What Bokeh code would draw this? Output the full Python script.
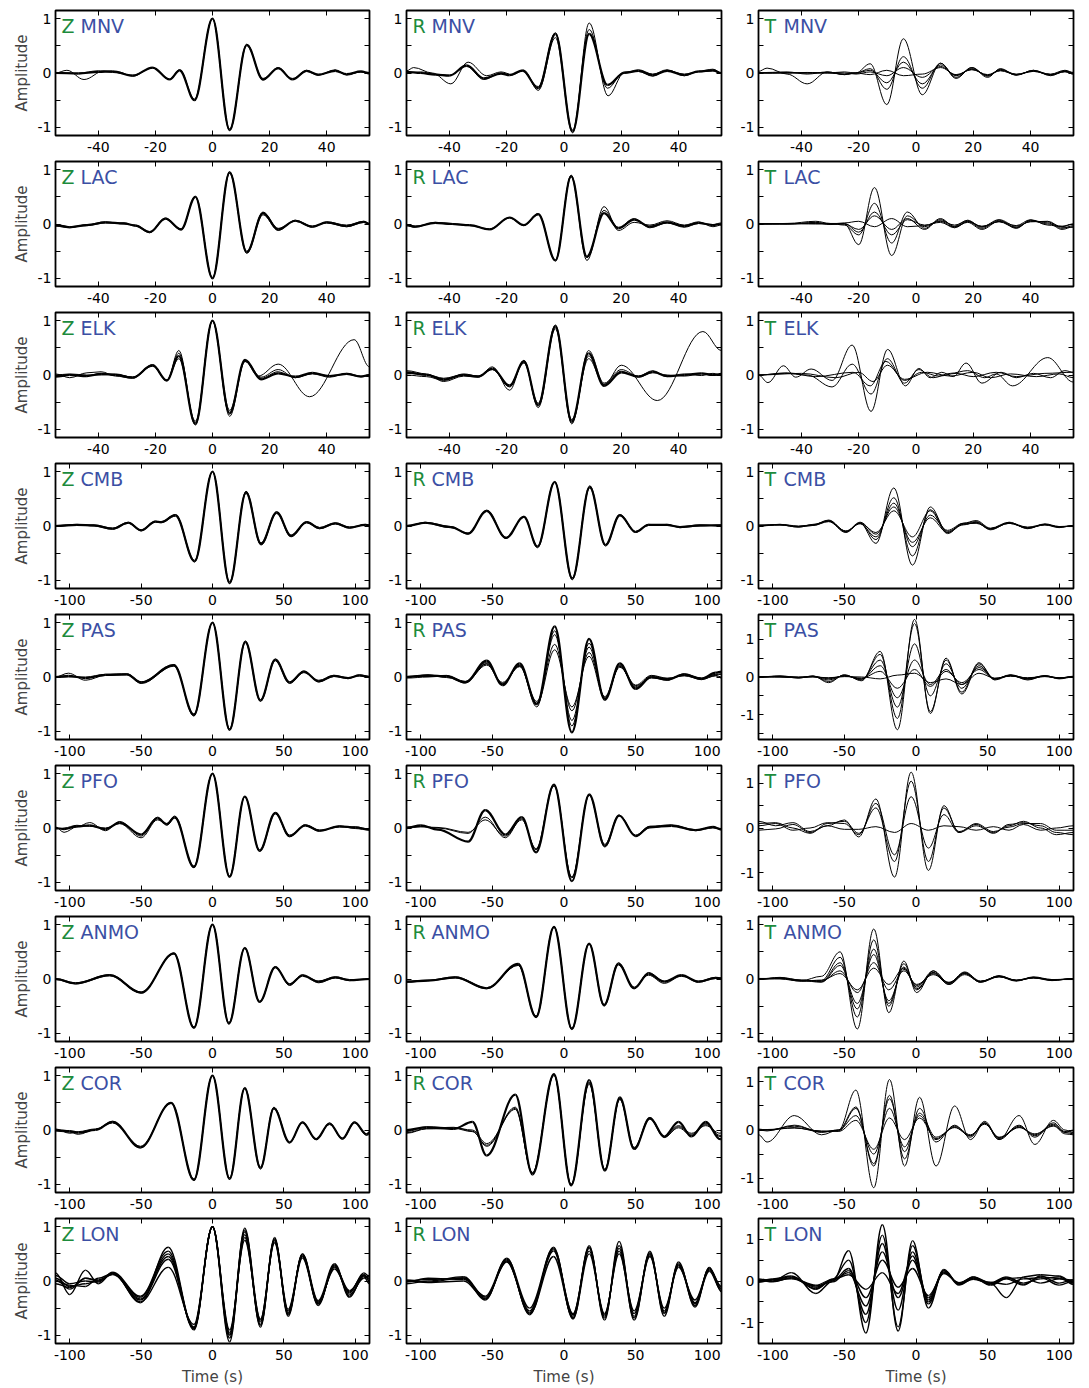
import numpy as np
from bokeh.plotting import figure
from bokeh.layouts import gridplot
from bokeh.models import Range1d, FixedTicker, LinearAxis, Label, ColumnDataSource
from bokeh.embed import file_html
from bokeh.resources import INLINE

# ---------------- data: extremum times (s) and amplitudes ----------------
COMPONENTS = ["Z", "R", "T"]
STATIONS = ["MNV", "LAC", "ELK", "CMB", "PAS", "PFO", "ANMO", "COR", "LON"]
SHORT_STATIONS = ["MNV", "LAC", "ELK"]
SHORT_TICKS = [-40, -20, 0, 20, 40]
LONG_TICKS = [-100, -50, 0, 50, 100]
X_LABEL = "Time (s)"
Y_LABEL = "Amplitude"

# MNV
Z_MNV_T = [-55, -47, -40, -35, -28, -21, -15, -11.5, -6.3, 0, 6, 12, 17.7, 23, 28, 33, 37, 43, 47, 52, 55]
Z_MNV_A = [0, -0.01, 0.02, 0.03, -0.05, 0.1, -0.12, 0.05, -0.5, 1.0, -1.05, 0.52, -0.12, 0.09, -0.12, 0.04, -0.03, 0.04, -0.02, 0.03, 0.0]
Z_MNV_C = [0.01, 0.0, 0.04, 0.01, -0.04, 0.09, -0.11, 0.06, -0.5, 1.0, -1.06, 0.53, -0.13, 0.1, -0.11, 0.03, -0.04, 0.05, -0.04, 0.02, -0.01]
Z_MNV_T2 = [-55, -51, -45, -38, -33, -28, -21, -15, -11.5, -6.3, 0, 6, 12, 17.7, 23, 28, 33, 37, 43, 47, 52, 55]
Z_MNV_B = [0, 0.05, -0.12, 0.04, 0.02, -0.06, 0.1, -0.12, 0.05, -0.48, 1.0, -1.03, 0.5, -0.1, 0.08, -0.1, 0.05, -0.04, 0.06, -0.03, 0.02, -0.02]

R_MNV_T = [-55, -50, -45, -40, -34, -28, -22, -19, -14.5, -9, -3, 3, 8.8, 15.2, 21, 26, 31, 36, 42, 47, 52, 55]
R_MNV_A = [0.02, 0.0, -0.03, -0.05, 0.14, -0.1, -0.01, -0.04, 0.05, -0.28, 0.72, -1.08, 0.72, -0.22, 0.0, 0.04, -0.04, 0.04, -0.04, 0.03, 0.05, 0.0]
R_MNV_C = [0.0, 0.02, -0.02, -0.04, 0.12, -0.12, 0.0, -0.03, 0.03, -0.25, 0.74, -1.05, 0.8, -0.28, 0.02, 0.03, -0.06, 0.05, -0.02, 0.02, 0.04, -0.01]
R_MNV_T2 = [-55, -52.5, -46, -39.5, -33.5, -27, -22, -18, -14, -9, -3, 3, 8.8, 15.4, 21, 26, 31, 36, 42, 47, 52, 55]
R_MNV_B = [0.04, 0.1, 0.0, -0.2, 0.2, -0.05, 0.02, -0.03, 0.05, -0.32, 0.65, -1.1, 0.92, -0.42, 0.0, 0.06, -0.02, 0.06, -0.05, 0.03, 0.07, 0.0]

T_MNV_T = [-55, -52, -45, -38, -31, -25, -21, -16, -10.2, -4.4, 2.2, 8.6, 14, 19.5, 25, 29.5, 35, 41, 47, 52, 55]
T_MNV_A = [0.03, 0.09, -0.02, -0.2, 0.02, -0.03, 0.0, 0.17, -0.58, 0.63, -0.4, 0.18, -0.1, 0.1, -0.08, 0.08, -0.04, 0.05, -0.03, 0.02, -0.02]
T_MNV_B = [0.0, 0.01, 0.02, -0.02, 0.02, -0.03, 0.0, 0.08, -0.3, 0.3, -0.28, 0.18, -0.08, 0.1, -0.06, 0.07, -0.04, 0.05, -0.05, 0.03, -0.02]
T_MNV_C = [0.0, 0.0, 0.0, 0.01, 0.0, -0.02, 0.0, 0.05, -0.18, 0.2, -0.2, 0.15, -0.05, 0.08, -0.05, 0.05, -0.03, 0.04, -0.04, 0.04, 0.0]
T_MNV_D = [0.01, 0.0, 0.0, 0.0, 0.01, 0.0, -0.02, 0.02, -0.05, 0.1, -0.08, 0.12, -0.04, 0.07, -0.04, 0.06, -0.02, 0.03, -0.02, 0.05, 0.01]
T_MNV_E = [0.0, 0.0, 0.01, 0.0, 0.0, 0.02, 0.0, -0.03, 0.05, -0.05, -0.02, 0.1, -0.03, 0.06, -0.03, 0.04, -0.03, 0.03, -0.03, 0.03, 0.0]

# LAC
Z_LAC_T = [-55, -50, -44, -37.5, -31, -27, -22, -16.5, -11, -6, 0, 6, 12, 17.7, 23, 29, 35, 40, 47, 53, 55]
Z_LAC_A = [-0.02, -0.06, -0.02, 0.03, 0.01, -0.03, -0.15, 0.1, -0.1, 0.5, -1.0, 0.95, -0.52, 0.2, -0.1, 0.06, -0.05, 0.03, -0.04, 0.04, 0.0]
Z_LAC_B = [-0.04, -0.07, -0.01, 0.04, 0.0, -0.02, -0.14, 0.11, -0.09, 0.49, -0.98, 0.93, -0.5, 0.22, -0.08, 0.05, -0.06, 0.04, -0.02, 0.05, 0.01]
Z_LAC_C = [-0.01, -0.05, -0.03, 0.02, 0.02, -0.04, -0.16, 0.09, -0.11, 0.51, -1.0, 0.96, -0.54, 0.17, -0.12, 0.07, -0.04, 0.02, -0.05, 0.03, -0.01]

R_LAC_T = [-55, -52, -45, -39, -33, -26, -19, -14, -9, -3, 2.5, 8, 14, 19, 24.5, 30, 36, 42, 47, 52, 55]
R_LAC_A = [-0.02, -0.05, 0.02, 0.0, -0.02, -0.1, 0.12, -0.02, 0.18, -0.67, 0.88, -0.6, 0.2, -0.08, 0.08, -0.05, 0.03, -0.04, 0.02, -0.02, 0.0]
R_LAC_B = [-0.03, -0.06, 0.03, 0.01, -0.03, -0.09, 0.11, -0.03, 0.17, -0.66, 0.87, -0.67, 0.32, -0.12, 0.03, -0.02, 0.06, -0.02, 0.04, -0.05, -0.02]
R_LAC_C = [-0.01, -0.04, 0.02, -0.01, -0.02, -0.1, 0.12, -0.02, 0.19, -0.68, 0.9, -0.62, 0.25, -0.06, 0.1, -0.07, 0.02, -0.06, 0.01, -0.01, 0.02]

T_LAC_T = [-55, -45, -35, -30, -25, -20, -14.5, -8.5, -3, 3, 8.5, 13.5, 18, 23, 29, 35, 40, 46, 51, 55]
T_LAC_A = [0.0, 0.0, 0.03, 0.0, 0.0, -0.38, 0.67, -0.58, 0.15, -0.05, 0.05, -0.06, 0.05, -0.08, 0.07, -0.08, 0.07, 0.02, -0.1, -0.05]
T_LAC_B = [0.0, 0.01, 0.05, 0.01, -0.02, -0.2, 0.38, -0.35, 0.22, -0.08, 0.08, -0.04, 0.07, -0.06, 0.05, -0.06, 0.05, 0.04, -0.08, -0.03]
T_LAC_C = [0.01, 0.0, 0.02, -0.01, 0.0, -0.1, 0.15, -0.1, 0.1, -0.1, 0.1, -0.05, 0.03, -0.1, 0.05, -0.03, 0.08, -0.02, -0.05, 0.0]
T_LAC_D = [0.0, 0.01, 0.0, 0.0, 0.02, 0.05, -0.05, 0.1, -0.05, -0.03, 0.06, -0.02, 0.06, -0.05, 0.08, -0.04, 0.04, 0.05, -0.06, -0.06]
T_LAC_E = [0.0, 0.0, 0.01, 0.01, 0.01, -0.15, 0.22, -0.2, 0.08, -0.02, 0.03, -0.07, 0.04, -0.04, 0.04, -0.07, 0.06, 0.0, -0.04, 0.0]

# ELK
Z_ELK_T = [-55, -50, -44, -39, -34, -28, -21, -16, -11.8, -6, 0, 6, 11.4, 17, 23, 29, 35, 41, 47, 52, 55]
Z_ELK_A = [-0.03, 0.0, -0.02, 0.02, 0.0, -0.05, 0.18, -0.1, 0.35, -0.9, 1.0, -0.7, 0.28, -0.08, 0.03, -0.03, 0.04, -0.02, 0.02, -0.03, 0.0]
Z_ELK_B = [0.02, -0.05, 0.04, 0.06, -0.02, -0.06, 0.17, -0.11, 0.45, -0.92, 1.0, -0.76, 0.25, -0.06, 0.06, -0.05, 0.02, -0.04, 0.03, -0.02, -0.03]
Z_ELK_D = [-0.01, 0.01, -0.01, 0.03, 0.01, -0.04, 0.19, -0.1, 0.4, -0.88, 0.99, -0.72, 0.27, -0.04, 0.1, -0.05, 0.03, -0.01, 0.01, -0.03, 0.01]
Z_ELK_T2 = [-55, -50, -44, -39, -34, -28, -21, -16, -11.8, -6, 0, 6, 11.4, 16, 23, 34, 49.6, 55]
Z_ELK_C = [0.0, 0.02, 0.0, 0.0, 0.02, -0.04, 0.16, -0.09, 0.3, -0.85, 1.0, -0.65, 0.25, -0.02, 0.2, -0.4, 0.65, 0.15]

R_ELK_T = [-55, -48, -42, -35, -30, -25, -19, -14, -9, -3, 2.7, 8.6, 14, 20, 26, 31, 36, 42, 48, 52, 55]
R_ELK_A = [0.05, 0.0, -0.08, 0.0, -0.03, 0.12, -0.2, 0.25, -0.55, 0.9, -0.85, 0.4, -0.2, 0.05, -0.03, 0.06, -0.02, 0.0, 0.03, 0.0, 0.02]
R_ELK_B = [0.08, 0.02, -0.12, -0.02, -0.04, 0.15, -0.28, 0.27, -0.6, 0.85, -0.9, 0.45, -0.15, 0.1, -0.02, 0.08, -0.03, 0.02, -0.01, 0.03, 0.0]
R_ELK_D = [0.03, 0.01, -0.06, 0.01, -0.02, 0.1, -0.18, 0.22, -0.52, 0.92, -0.88, 0.35, -0.17, 0.07, -0.04, 0.04, 0.0, -0.02, 0.02, -0.01, 0.01]
R_ELK_T2 = [-55, -48, -42, -35, -30, -25, -19, -14, -9, -3, 2.7, 8.6, 14, 20, 32.6, 48.5, 55]
R_ELK_C = [0.0, -0.03, -0.1, 0.02, -0.02, 0.1, -0.22, 0.24, -0.57, 0.88, -0.82, 0.3, -0.18, 0.18, -0.47, 0.8, 0.45]

T_ELK_TA = [-55, -51.7, -46.3, -42, -36.6, -29.3, -22.3, -15.7, -9.9, -3.7, 1, 5, 9, 13, 17.5, 23, 29.7, 35, 41, 47, 52, 55]
T_ELK_A = [0.0, -0.14, 0.17, -0.04, 0.11, -0.1, 0.55, -0.67, 0.47, -0.2, 0.12, -0.05, 0.05, -0.03, 0.22, -0.15, 0.05, -0.05, 0.03, -0.05, 0.08, 0.05]
T_ELK_TB = [-55, -46, -38, -29.3, -22.3, -15.7, -10, -4, 1, 6, 12, 18, 24, 28, 33.7, 46, 55]
T_ELK_B = [0.0, 0.03, 0.0, -0.22, 0.2, -0.35, 0.3, -0.15, 0.1, -0.05, 0.03, 0.08, -0.05, 0.02, -0.2, 0.32, -0.13]
T_ELK_TC = [-55, -45, -35, -22, -16, -10.5, -4, 2, 8, 14, 20, 28, 35, 45, 55]
T_ELK_C = [0.0, 0.04, -0.03, 0.05, -0.2, 0.25, -0.1, 0.05, -0.02, 0.03, -0.03, 0.05, -0.03, 0.03, 0.05]
T_ELK_TD = [-55, -40, -28, -20, -15, -10, -4, 4, 12, 20, 26, 33, 42, 50, 55]
T_ELK_D = [0.0, 0.03, -0.05, 0.05, -0.12, 0.18, -0.08, 0.05, -0.02, 0.05, -0.05, 0.02, -0.03, 0.02, -0.05]

# CMB
Z_CMB_T = [-110, -95, -83, -70, -59, -50, -40, -36, -26, -12.5, 0, 12, 23.5, 34, 45, 55, 66, 75, 86, 96, 107, 110]
Z_CMB_A = [0.0, 0.02, 0.01, -0.05, 0.06, -0.08, 0.08, 0.07, 0.2, -0.65, 1.0, -1.05, 0.62, -0.33, 0.25, -0.18, 0.07, -0.04, 0.05, -0.03, 0.02, 0.01]
Z_CMB_B = [0.01, 0.03, 0.0, -0.06, 0.05, -0.09, 0.07, 0.08, 0.21, -0.63, 1.0, -1.02, 0.6, -0.35, 0.23, -0.2, 0.06, -0.05, 0.04, -0.04, 0.03, 0.0]
Z_CMB_C = [-0.01, 0.02, 0.02, -0.04, 0.07, -0.07, 0.09, 0.06, 0.18, -0.66, 1.0, -1.06, 0.64, -0.31, 0.26, -0.17, 0.08, -0.03, 0.06, -0.02, 0.02, 0.02]

R_CMB_T = [-110, -97, -79, -67, -54, -40.5, -28, -18.5, -6.5, 5.8, 18, 29, 39, 50, 59, 72, 81, 95, 110]
R_CMB_A = [0.0, 0.06, -0.02, -0.14, 0.28, -0.22, 0.17, -0.38, 0.81, -0.97, 0.72, -0.35, 0.2, -0.11, 0.02, 0.02, -0.02, 0.01, 0.01]
R_CMB_B = [0.01, 0.05, -0.03, -0.13, 0.27, -0.23, 0.18, -0.4, 0.8, -0.99, 0.74, -0.37, 0.19, -0.12, 0.03, 0.01, -0.01, 0.02, 0.0]
R_CMB_C = [-0.01, 0.07, -0.01, -0.15, 0.29, -0.21, 0.16, -0.37, 0.82, -0.95, 0.7, -0.34, 0.21, -0.1, 0.01, 0.03, -0.03, 0.0, 0.02]

T_CMB_T = [-110, -95, -82, -72, -61, -49, -39, -28, -15.5, -2.5, 10, 22, 33, 42, 52, 65, 78, 90, 100, 110]
T_CMB_A = [0.0, 0.02, -0.02, 0.02, 0.1, -0.1, 0.05, -0.32, 0.7, -0.72, 0.35, -0.12, 0.05, 0.08, -0.05, 0.06, -0.04, 0.03, -0.02, 0.0]
T_CMB_B = [0.01, 0.03, -0.01, 0.01, 0.08, -0.12, 0.06, -0.25, 0.52, -0.55, 0.3, -0.1, 0.03, 0.06, -0.06, 0.05, -0.03, 0.02, -0.03, 0.01]
T_CMB_C = [0.02, 0.02, -0.02, 0.03, 0.09, -0.09, 0.04, -0.2, 0.42, -0.38, 0.2, -0.08, 0.05, 0.1, -0.04, 0.07, -0.05, 0.04, -0.01, -0.01]
T_CMB_D = [0.0, 0.03, 0.0, 0.02, 0.11, -0.1, 0.07, -0.15, 0.35, -0.3, 0.15, -0.12, 0.02, 0.07, -0.07, 0.06, -0.02, 0.03, -0.02, 0.01]
T_CMB_E = [0.01, 0.02, -0.01, 0.01, 0.09, -0.11, 0.05, -0.12, 0.28, -0.2, 0.28, -0.14, 0.04, 0.05, -0.05, 0.05, -0.04, 0.02, -0.01, 0.0]

# PAS
Z_PAS_T = [-110, -101, -89, -75, -60, -50, -27, -13, 0, 12, 23, 33.6, 44, 54, 64, 74.5, 85, 95, 103, 110]
Z_PAS_A = [0.0, 0.02, -0.02, 0.04, 0.05, -0.1, 0.22, -0.7, 1.0, -0.97, 0.65, -0.43, 0.32, -0.1, 0.1, -0.08, 0.02, -0.02, 0.03, 0.0]
Z_PAS_B = [0.0, 0.07, -0.06, 0.03, 0.04, -0.12, 0.2, -0.68, 1.0, -0.95, 0.63, -0.45, 0.3, -0.12, 0.08, -0.06, 0.03, -0.01, 0.02, -0.01]
Z_PAS_C = [-0.01, 0.0, 0.0, 0.05, 0.06, -0.09, 0.23, -0.72, 1.0, -0.98, 0.66, -0.42, 0.33, -0.09, 0.11, -0.09, 0.01, -0.03, 0.04, 0.01]

R_PAS_T = [-110, -95, -82, -69, -54, -43, -31, -19, -6.5, 5.5, 17.5, 28.5, 39, 50, 61, 72, 84, 96, 106, 110]
R_PAS_A = [0.0, 0.03, 0.01, -0.1, 0.3, -0.15, 0.25, -0.5, 0.93, -1.02, 0.7, -0.42, 0.25, -0.22, 0.0, -0.05, 0.05, -0.03, 0.08, 0.1]
R_PAS_B = [0.01, 0.02, 0.03, -0.08, 0.27, -0.13, 0.22, -0.55, 0.85, -0.9, 0.62, -0.4, 0.2, -0.2, 0.02, -0.03, 0.03, -0.05, 0.03, 0.0]
R_PAS_C = [-0.02, 0.0, 0.02, -0.11, 0.25, -0.12, 0.2, -0.48, 0.78, -0.8, 0.55, -0.38, 0.18, -0.16, -0.02, -0.04, 0.04, -0.02, 0.05, 0.06]
R_PAS_D = [0.0, 0.04, -0.01, -0.09, 0.24, -0.14, 0.21, -0.45, 0.6, -0.62, 0.45, -0.36, 0.22, -0.15, 0.03, -0.02, 0.02, -0.04, 0.02, -0.02]
R_PAS_E = [0.01, 0.01, 0.02, -0.1, 0.22, -0.1, 0.19, -0.5, 0.5, -0.55, 0.38, -0.4, 0.2, -0.18, 0.0, -0.06, 0.06, -0.03, 0.04, 0.05]

T_PAS_T = [-110, -95, -82, -72, -61, -50, -38, -25, -13, -1, 10, 21, 32, 44, 55, 66, 78, 90, 100, 110]
T_PAS_A = [0.0, 0.02, -0.03, 0.03, -0.15, 0.06, -0.1, 0.68, -1.4, 1.53, -0.97, 0.5, -0.45, 0.35, -0.05, 0.05, -0.08, 0.03, -0.05, 0.0]
T_PAS_B = [0.01, 0.0, -0.02, 0.02, -0.12, 0.05, -0.08, 0.6, -1.1, 1.42, -0.92, 0.45, -0.4, 0.38, -0.08, 0.04, -0.06, 0.02, -0.03, 0.02]
T_PAS_C = [0.0, 0.03, -0.01, 0.01, -0.08, 0.04, -0.06, 0.45, -0.8, 0.88, -0.5, 0.35, -0.3, 0.3, -0.06, 0.06, -0.05, 0.04, -0.04, 0.01]
T_PAS_D = [-0.01, 0.01, -0.02, 0.02, -0.05, 0.03, -0.05, 0.3, -0.55, 0.45, -0.2, 0.2, -0.2, 0.25, -0.04, 0.03, -0.04, 0.03, -0.02, 0.0]
T_PAS_E = [0.0, 0.02, 0.0, 0.01, -0.03, 0.02, -0.03, 0.15, -0.3, 0.2, -0.25, 0.15, -0.15, 0.2, -0.05, 0.05, -0.03, 0.02, -0.03, 0.01]
T_PAS_F = [0.01, 0.0, -0.01, 0.0, -0.02, 0.01, 0.0, -0.05, 0.05, 0.1, -0.15, -0.05, -0.2, 0.1, -0.03, 0.02, -0.02, 0.01, -0.02, 0.0]

# PFO
Z_PFO_T = [-110, -104, -95, -86, -75, -65, -50, -38.5, -32, -26.5, -13, 0, 12, 22.6, 33, 44, 54, 65, 75, 89, 100, 110]
Z_PFO_A = [0.0, -0.02, 0.03, 0.05, -0.02, 0.1, -0.12, 0.18, 0.07, 0.2, -0.72, 1.0, -0.9, 0.58, -0.42, 0.28, -0.15, 0.05, -0.05, 0.03, 0.01, -0.03]
Z_PFO_B = [0.02, -0.08, 0.02, 0.1, -0.05, 0.12, -0.15, 0.2, 0.05, 0.18, -0.7, 1.0, -0.9, 0.57, -0.4, 0.28, -0.13, 0.04, -0.06, 0.04, -0.01, -0.04]
Z_PFO_C = [-0.02, 0.0, 0.05, 0.03, 0.0, 0.08, -0.18, 0.15, 0.08, 0.22, -0.73, 1.0, -0.88, 0.58, -0.43, 0.26, -0.16, 0.06, -0.04, 0.02, 0.02, -0.02]

R_PFO_T = [-110, -100, -88, -67, -55, -41, -29.5, -19.5, -7, 5.5, 17.6, 28.5, 38.5, 50, 60, 75, 92, 104, 110]
R_PFO_A = [0.0, 0.05, -0.03, -0.25, 0.33, -0.12, 0.2, -0.45, 0.8, -0.98, 0.62, -0.33, 0.23, -0.15, 0.02, 0.04, -0.04, 0.02, -0.03]
R_PFO_B = [0.02, 0.03, 0.0, -0.1, 0.2, -0.18, 0.17, -0.4, 0.77, -0.9, 0.6, -0.3, 0.24, -0.15, 0.0, 0.05, -0.05, 0.0, -0.02]
R_PFO_C = [0.0, 0.02, 0.01, -0.08, 0.15, -0.15, 0.15, -0.38, 0.8, -0.92, 0.61, -0.35, 0.22, -0.13, 0.03, 0.06, -0.03, 0.01, -0.01]

T_PFO_T = [-110, -98, -86, -74, -62, -50, -40, -28, -15, -3.4, 8.7, 19.5, 30, 42, 54, 65, 75, 87, 98, 110]
T_PFO_A = [0.15, 0.05, 0.12, -0.08, 0.05, 0.18, -0.2, 0.65, -1.1, 1.25, -0.95, 0.5, -0.1, 0.05, -0.1, 0.05, 0.15, 0.0, -0.15, -0.1]
T_PFO_B = [0.1, 0.12, 0.0, -0.12, 0.1, 0.15, -0.12, 0.45, -0.75, 1.05, -0.75, 0.45, -0.08, 0.08, -0.12, 0.08, 0.12, 0.05, -0.1, -0.15]
T_PFO_C = [0.05, 0.1, -0.05, 0.0, 0.12, 0.1, -0.15, 0.55, -0.6, 0.7, -0.45, 0.3, -0.1, 0.1, -0.08, 0.02, 0.1, 0.1, -0.05, -0.05]
T_PFO_D = [-0.05, -0.02, 0.08, -0.1, 0.05, -0.03, -0.03, 0.03, -0.1, 0.1, -0.05, 0.05, 0.03, -0.05, 0.03, -0.05, 0.08, -0.05, 0.0, 0.05]

# ANMO
Z_ANMO_T = [-110, -96, -72, -50, -27, -13, 0, 11.5, 22.6, 33, 44, 54, 63, 74.5, 86, 96, 110]
Z_ANMO_A = [0.0, -0.08, 0.07, -0.25, 0.47, -0.9, 1.0, -0.82, 0.57, -0.42, 0.22, -0.1, 0.06, -0.05, 0.03, -0.02, 0.0]
Z_ANMO_B = [0.01, -0.07, 0.08, -0.24, 0.46, -0.88, 1.0, -0.8, 0.56, -0.43, 0.23, -0.12, 0.07, -0.07, 0.02, -0.03, 0.01]
Z_ANMO_C = [-0.01, -0.09, 0.06, -0.26, 0.48, -0.9, 1.0, -0.83, 0.58, -0.41, 0.21, -0.09, 0.08, -0.04, 0.04, -0.01, -0.01]

R_ANMO_T = [-110, -95, -76, -54, -32, -19.5, -7, 5.5, 17.5, 28, 38, 49, 59, 70, 82, 94, 106, 110]
R_ANMO_A = [-0.05, -0.03, 0.03, -0.17, 0.28, -0.7, 0.96, -0.92, 0.65, -0.48, 0.28, -0.17, 0.1, -0.05, 0.07, -0.05, 0.02, 0.01]
R_ANMO_B = [-0.04, -0.02, 0.04, -0.16, 0.25, -0.68, 0.95, -0.9, 0.64, -0.5, 0.26, -0.15, 0.07, -0.08, 0.05, -0.04, 0.03, 0.0]
R_ANMO_C = [-0.06, -0.03, 0.02, -0.18, 0.26, -0.71, 0.97, -0.93, 0.66, -0.47, 0.3, -0.18, 0.12, -0.04, 0.06, -0.06, 0.01, 0.02]

T_ANMO_T = [-110, -95, -80, -66, -53, -41, -29.5, -19, -8.5, 0.5, 12, 23, 34, 45, 58, 70, 82, 95, 110]
T_ANMO_A = [0.0, 0.02, -0.03, 0.05, 0.5, -0.92, 0.92, -0.62, 0.33, -0.25, 0.15, -0.08, 0.12, -0.05, 0.05, -0.03, 0.03, -0.02, 0.0]
T_ANMO_B = [0.01, 0.0, -0.04, -0.03, 0.4, -0.7, 0.72, -0.5, 0.28, -0.2, 0.12, -0.1, 0.1, -0.06, 0.06, -0.02, 0.02, -0.03, 0.01]
T_ANMO_C = [0.0, 0.03, -0.02, -0.05, 0.3, -0.55, 0.55, -0.45, 0.22, -0.15, 0.15, -0.07, 0.13, -0.04, 0.04, -0.04, 0.04, -0.01, 0.0]
T_ANMO_D = [-0.01, 0.01, -0.03, -0.06, 0.25, -0.45, 0.45, -0.4, 0.18, -0.12, 0.1, -0.1, 0.08, -0.05, 0.06, -0.03, 0.02, -0.02, 0.01]
T_ANMO_E = [0.0, 0.02, -0.02, -0.04, 0.15, -0.25, 0.3, -0.2, 0.15, -0.1, 0.08, -0.06, 0.1, -0.06, 0.04, -0.02, 0.03, -0.02, 0.0]
T_ANMO_F = [0.01, 0.01, -0.04, -0.02, 0.1, -0.2, 0.2, -0.1, 0.2, -0.18, 0.12, -0.08, 0.11, -0.04, 0.05, -0.03, 0.02, -0.01, -0.01]

# COR
Z_COR_T = [-110, -100, -94, -82, -70, -50.5, -29, -13, 0, 12, 22.6, 33.6, 43, 54, 63, 72.6, 82, 91, 99.5, 108, 110]
Z_COR_A = [0.0, -0.02, -0.05, 0.0, 0.15, -0.32, 0.5, -0.92, 1.0, -0.9, 0.77, -0.7, 0.4, -0.23, 0.14, -0.17, 0.12, -0.16, 0.14, -0.08, -0.05]
Z_COR_B = [0.02, -0.06, -0.03, 0.02, 0.13, -0.3, 0.49, -0.9, 1.0, -0.88, 0.76, -0.72, 0.42, -0.22, 0.13, -0.16, 0.1, -0.15, 0.15, -0.1, -0.08]
Z_COR_C = [-0.02, -0.04, -0.08, 0.01, 0.16, -0.33, 0.51, -0.93, 1.0, -0.91, 0.78, -0.68, 0.39, -0.24, 0.15, -0.18, 0.13, -0.17, 0.13, -0.07, -0.03]

R_COR_T = [-110, -96, -77, -64, -54, -34, -22, -7, 5, 17.6, 28.5, 39, 49, 60, 70, 80, 89, 99, 109, 110]
R_COR_A = [0.0, 0.05, 0.02, 0.15, -0.47, 0.65, -0.82, 1.03, -1.02, 0.92, -0.75, 0.6, -0.35, 0.22, -0.12, 0.15, -0.12, 0.15, -0.17, -0.16]
R_COR_B = [-0.05, 0.03, 0.05, -0.02, -0.3, 0.4, -0.8, 1.02, -1.0, 0.88, -0.72, 0.57, -0.33, 0.2, -0.14, 0.06, -0.08, 0.12, -0.1, -0.1]
R_COR_C = [-0.03, 0.06, 0.04, 0.0, -0.25, 0.38, -0.78, 1.0, -1.0, 0.86, -0.74, 0.58, -0.32, 0.23, -0.13, 0.04, -0.1, 0.1, -0.12, -0.12]
R_COR_D = [-0.06, 0.02, 0.03, -0.03, -0.28, 0.42, -0.79, 1.02, -1.02, 0.84, -0.73, 0.56, -0.34, 0.22, -0.12, 0.08, -0.06, 0.08, -0.06, -0.05]

T_COR_T = [-110, -104, -85, -66, -54, -42, -29.5, -18.5, -8, 2.5, 14, 27, 38, 48, 58, 72, 83, 96, 104, 110]
T_COR_A = [-0.1, -0.25, 0.3, -0.1, 0.0, 0.83, -1.2, 1.05, -0.75, 0.68, -0.75, 0.5, -0.2, 0.15, -0.2, 0.3, -0.3, 0.2, 0.0, -0.05]
T_COR_B = [0.0, -0.02, 0.1, -0.05, 0.0, 0.48, -0.75, 0.72, -0.6, 0.45, -0.25, 0.1, -0.15, 0.18, -0.18, 0.1, -0.15, 0.15, -0.05, 0.0]
T_COR_C = [0.0, 0.0, 0.08, -0.03, -0.02, 0.45, -0.7, 0.65, -0.45, 0.35, -0.15, 0.05, -0.12, 0.15, -0.2, 0.08, -0.12, 0.1, -0.08, -0.1]
T_COR_D = [0.02, 0.0, 0.05, -0.04, 0.0, 0.3, -0.5, 0.45, -0.35, 0.3, -0.2, 0.08, -0.1, 0.12, -0.15, 0.06, -0.1, 0.12, -0.03, -0.05]
T_COR_E = [0.0, 0.01, 0.04, -0.02, -0.03, 0.2, -0.4, 0.25, -0.2, 0.25, -0.18, 0.06, -0.12, 0.14, -0.16, 0.05, -0.08, 0.08, -0.05, -0.08]

# LON
Z_LON_T = [-110, -100, -89, -80, -70, -50.5, -31, -13, 0, 12, 22.6, 33.6, 43.5, 53, 63, 74, 85.5, 96, 106, 110]
Z_LON_A = [0.05, -0.1, -0.05, 0.0, 0.15, -0.4, 0.62, -0.88, 1.0, -1.12, 0.97, -0.85, 0.8, -0.65, 0.5, -0.45, 0.3, -0.3, 0.1, 0.05]
Z_LON_B = [0.15, -0.25, 0.2, -0.05, 0.15, -0.3, 0.5, -0.85, 1.0, -1.0, 0.9, -0.8, 0.75, -0.6, 0.48, -0.4, 0.25, -0.25, 0.05, 0.1]
Z_LON_C = [-0.05, -0.12, 0.05, 0.02, 0.12, -0.35, 0.4, -0.85, 1.0, -0.95, 0.8, -0.75, 0.72, -0.55, 0.45, -0.38, 0.22, -0.2, 0.12, 0.0]
Z_LON_D = [0.0, -0.08, -0.1, 0.05, 0.14, -0.38, 0.25, -0.8, 1.0, -0.9, 0.75, -0.7, 0.7, -0.58, 0.42, -0.42, 0.28, -0.22, 0.15, 0.08]
Z_LON_E = [0.1, -0.05, 0.0, -0.02, 0.16, -0.28, 0.55, -0.9, 1.0, -1.05, 0.85, -0.82, 0.78, -0.62, 0.5, -0.36, 0.32, -0.28, 0.08, -0.05]
Z_LON_F = [0.02, -0.15, 0.05, 0.0, 0.13, -0.33, 0.45, -0.87, 1.0, -0.98, 0.93, -0.72, 0.76, -0.52, 0.46, -0.42, 0.26, -0.18, 0.1, 0.03]

R_LON_T = [-110, -95, -70, -55, -40, -24, -7.3, 6.3, 17.6, 28.3, 38.5, 49, 60, 70, 80, 91.5, 101.5, 110]
R_LON_A = [0.0, 0.03, 0.05, -0.35, 0.42, -0.62, 0.62, -0.7, 0.65, -0.72, 0.73, -0.72, 0.55, -0.65, 0.35, -0.48, 0.25, -0.2]
R_LON_B = [-0.05, 0.0, 0.08, -0.3, 0.35, -0.55, 0.55, -0.6, 0.55, -0.6, 0.5, -0.55, 0.45, -0.5, 0.25, -0.35, 0.2, -0.15]
R_LON_C = [0.02, -0.03, 0.0, -0.32, 0.38, -0.6, 0.45, -0.65, 0.6, -0.65, 0.6, -0.6, 0.5, -0.55, 0.3, -0.4, 0.22, -0.1]
R_LON_D = [-0.02, 0.05, 0.03, -0.28, 0.4, -0.5, 0.6, -0.62, 0.62, -0.68, 0.65, -0.65, 0.52, -0.58, 0.32, -0.42, 0.18, -0.18]
R_LON_E = [0.0, -0.02, 0.06, -0.33, 0.36, -0.58, 0.58, -0.68, 0.5, -0.62, 0.55, -0.68, 0.48, -0.6, 0.28, -0.45, 0.24, -0.12]

T_LON_T = [-110, -100, -87, -70, -58, -47, -35, -23.5, -12.5, -2.4, 8.7, 19.4, 30, 40, 52, 63, 75, 87, 100, 110]
T_LON_A = [0.05, 0.0, 0.2, -0.3, 0.0, 0.73, -1.25, 1.35, -1.2, 0.97, -0.65, 0.28, -0.08, 0.1, -0.05, -0.4, 0.1, 0.15, 0.12, -0.05]
T_LON_B = [0.0, 0.05, 0.12, -0.2, 0.05, 0.5, -1.0, 1.1, -1.1, 0.85, -0.5, 0.2, -0.05, 0.08, -0.1, 0.05, -0.1, 0.12, -0.05, 0.03]
T_LON_C = [-0.03, 0.03, 0.1, -0.15, 0.02, 0.3, -0.8, 0.9, -0.7, 0.7, -0.45, 0.25, -0.1, 0.05, -0.05, 0.1, -0.05, 0.05, 0.1, -0.08]
T_LON_D = [0.02, -0.02, 0.08, -0.18, 0.03, 0.2, -0.6, 0.7, -0.4, 0.5, -0.4, 0.22, -0.06, 0.1, -0.08, 0.06, 0.08, -0.05, 0.05, 0.02]
T_LON_E = [0.0, 0.04, 0.05, -0.12, -0.02, 0.25, -0.4, 0.5, -0.15, 0.3, -0.35, 0.18, -0.04, 0.06, -0.03, -0.08, 0.05, 0.08, -0.1, 0.0]
T_LON_F = [0.03, -0.01, 0.07, -0.1, 0.04, 0.15, -0.2, 0.2, -0.3, 0.6, -0.55, 0.25, -0.07, 0.04, -0.06, 0.08, -0.08, 0.1, 0.06, -0.04]

PANELS = {
    ("Z", "MNV"): [(Z_MNV_T, Z_MNV_A), (Z_MNV_T2, Z_MNV_B), (Z_MNV_T, Z_MNV_C)],
    ("R", "MNV"): [(R_MNV_T, R_MNV_A), (R_MNV_T2, R_MNV_B), (R_MNV_T, R_MNV_C)],
    ("T", "MNV"): [(T_MNV_T, T_MNV_A), (T_MNV_T, T_MNV_B), (T_MNV_T, T_MNV_C), (T_MNV_T, T_MNV_D), (T_MNV_T, T_MNV_E)],
    ("Z", "LAC"): [(Z_LAC_T, Z_LAC_A), (Z_LAC_T, Z_LAC_B), (Z_LAC_T, Z_LAC_C)],
    ("R", "LAC"): [(R_LAC_T, R_LAC_A), (R_LAC_T, R_LAC_B), (R_LAC_T, R_LAC_C)],
    ("T", "LAC"): [(T_LAC_T, T_LAC_A), (T_LAC_T, T_LAC_B), (T_LAC_T, T_LAC_C), (T_LAC_T, T_LAC_D), (T_LAC_T, T_LAC_E)],
    ("Z", "ELK"): [(Z_ELK_T, Z_ELK_A), (Z_ELK_T, Z_ELK_B), (Z_ELK_T2, Z_ELK_C), (Z_ELK_T, Z_ELK_D)],
    ("R", "ELK"): [(R_ELK_T, R_ELK_A), (R_ELK_T, R_ELK_B), (R_ELK_T2, R_ELK_C), (R_ELK_T, R_ELK_D)],
    ("T", "ELK"): [(T_ELK_TA, T_ELK_A), (T_ELK_TB, T_ELK_B), (T_ELK_TC, T_ELK_C), (T_ELK_TD, T_ELK_D)],
    ("Z", "CMB"): [(Z_CMB_T, Z_CMB_A), (Z_CMB_T, Z_CMB_B), (Z_CMB_T, Z_CMB_C)],
    ("R", "CMB"): [(R_CMB_T, R_CMB_A), (R_CMB_T, R_CMB_B), (R_CMB_T, R_CMB_C)],
    ("T", "CMB"): [(T_CMB_T, T_CMB_A), (T_CMB_T, T_CMB_B), (T_CMB_T, T_CMB_C), (T_CMB_T, T_CMB_D), (T_CMB_T, T_CMB_E)],
    ("Z", "PAS"): [(Z_PAS_T, Z_PAS_A), (Z_PAS_T, Z_PAS_B), (Z_PAS_T, Z_PAS_C)],
    ("R", "PAS"): [(R_PAS_T, R_PAS_A), (R_PAS_T, R_PAS_B), (R_PAS_T, R_PAS_C), (R_PAS_T, R_PAS_D), (R_PAS_T, R_PAS_E)],
    ("T", "PAS"): [(T_PAS_T, T_PAS_A), (T_PAS_T, T_PAS_B), (T_PAS_T, T_PAS_C), (T_PAS_T, T_PAS_D), (T_PAS_T, T_PAS_E), (T_PAS_T, T_PAS_F)],
    ("Z", "PFO"): [(Z_PFO_T, Z_PFO_A), (Z_PFO_T, Z_PFO_B), (Z_PFO_T, Z_PFO_C)],
    ("R", "PFO"): [(R_PFO_T, R_PFO_A), (R_PFO_T, R_PFO_B), (R_PFO_T, R_PFO_C)],
    ("T", "PFO"): [(T_PFO_T, T_PFO_A), (T_PFO_T, T_PFO_B), (T_PFO_T, T_PFO_C), (T_PFO_T, T_PFO_D)],
    ("Z", "ANMO"): [(Z_ANMO_T, Z_ANMO_A), (Z_ANMO_T, Z_ANMO_B), (Z_ANMO_T, Z_ANMO_C)],
    ("R", "ANMO"): [(R_ANMO_T, R_ANMO_A), (R_ANMO_T, R_ANMO_B), (R_ANMO_T, R_ANMO_C)],
    ("T", "ANMO"): [(T_ANMO_T, T_ANMO_A), (T_ANMO_T, T_ANMO_B), (T_ANMO_T, T_ANMO_C), (T_ANMO_T, T_ANMO_D), (T_ANMO_T, T_ANMO_E), (T_ANMO_T, T_ANMO_F)],
    ("Z", "COR"): [(Z_COR_T, Z_COR_A), (Z_COR_T, Z_COR_B), (Z_COR_T, Z_COR_C)],
    ("R", "COR"): [(R_COR_T, R_COR_A), (R_COR_T, R_COR_B), (R_COR_T, R_COR_C), (R_COR_T, R_COR_D)],
    ("T", "COR"): [(T_COR_T, T_COR_A), (T_COR_T, T_COR_B), (T_COR_T, T_COR_C), (T_COR_T, T_COR_D), (T_COR_T, T_COR_E)],
    ("Z", "LON"): [(Z_LON_T, Z_LON_A), (Z_LON_T, Z_LON_B), (Z_LON_T, Z_LON_C), (Z_LON_T, Z_LON_D), (Z_LON_T, Z_LON_E), (Z_LON_T, Z_LON_F)],
    ("R", "LON"): [(R_LON_T, R_LON_A), (R_LON_T, R_LON_B), (R_LON_T, R_LON_C), (R_LON_T, R_LON_D), (R_LON_T, R_LON_E)],
    ("T", "LON"): [(T_LON_T, T_LON_A), (T_LON_T, T_LON_B), (T_LON_T, T_LON_C), (T_LON_T, T_LON_D), (T_LON_T, T_LON_E), (T_LON_T, T_LON_F)],
}

# axis half-ranges (layout)
Y_HALF = {("T", "PAS"): 1.66, ("T", "PFO"): 1.4, ("T", "COR"): 1.3, ("T", "LON"): 1.5}
Y_HALF_DEFAULT = 1.15
X_HALF_SHORT = 55
X_HALF_LONG = 110

# ---------------- styling / layout ----------------
FONT = "DejaVu Sans"
GREEN = "#1d8b3c"
BLUE = "#3b4fa4"
COL_W = [385, 352, 344]
COL_ML = [55, 21, 21]
COL_MR = [16, 16, 8]
FRAME_H = 125
K = 0.36  # bezier handle fraction between consecutive extrema


def bezier_source(t, a):
    n = min(len(t), len(a))
    t = np.asarray(t[:n], float)
    a = np.asarray(a[:n], float)
    dt = np.diff(t)
    return ColumnDataSource(dict(
        x0=t[:-1], y0=a[:-1], x1=t[1:], y1=a[1:],
        cx0=t[:-1] + K * dt, cy0=a[:-1], cx1=t[1:] - K * dt, cy1=a[1:]))


def style_axis(ax, ticks, overrides=None, show_labels=True, standoff=4):
    ax.ticker = FixedTicker(ticks=ticks)
    ax.axis_line_color = None
    ax.major_tick_in = 5
    ax.major_tick_out = 0
    ax.major_tick_line_color = "black"
    ax.major_tick_line_width = 1
    ax.minor_tick_line_color = None
    ax.major_label_text_font = FONT
    ax.major_label_text_color = "black"
    if show_labels:
        ax.major_label_text_font_size = "14px"
        ax.major_label_standoff = standoff
        ax.major_label_overrides = overrides
    else:
        ax.major_label_text_font_size = "0px"
        ax.major_label_standoff = 0
        ax.major_label_overrides = {v: "" for v in ticks}


figs = []
n_rows = len(STATIONS)
for r, sta in enumerate(STATIONS):
    short = sta in SHORT_STATIONS
    xh = X_HALF_SHORT if short else X_HALF_LONG
    xticks = SHORT_TICKS if short else LONG_TICKS
    first = (r == 0)
    last = (r == n_rows - 1)
    top_b = 10 if first else 2
    bot_b = 45 if last else 24
    row_figs = []
    for c, comp in enumerate(COMPONENTS):
        yh = Y_HALF.get((comp, sta), Y_HALF_DEFAULT)
        p = figure(width=COL_W[c], height=top_b + FRAME_H + bot_b,
                   x_range=Range1d(-xh, xh), y_range=Range1d(-yh, yh),
                   output_backend="svg", toolbar_location=None, tools="",
                   min_border_left=COL_ML[c], min_border_right=COL_MR[c],
                   min_border_top=top_b, min_border_bottom=bot_b,
                   background_fill_color="white", border_fill_color="white",
                   outline_line_color="black", outline_line_width=1.8)
        p.xgrid.visible = False
        p.ygrid.visible = False
        xax = p.xaxis[0]
        yax = p.yaxis[0]

        yt_vals = [v for v in [-1.5, -1.0, -0.5, 0.0, 0.5, 1.0, 1.5] if abs(v) < yh]
        yover = {v: ("%d" % v if float(v).is_integer() else "") for v in yt_vals}
        xover = {v: "%d" % v for v in xticks}
        style_axis(xax, xticks, overrides=xover, standoff=6)
        style_axis(yax, yt_vals, overrides=yover, standoff=4)

        top_ax = LinearAxis()
        style_axis(top_ax, xticks, show_labels=False)
        p.add_layout(top_ax, "above")
        right_ax = LinearAxis()
        style_axis(right_ax, yt_vals, show_labels=False)
        p.add_layout(right_ax, "right")

        if c == 0:
            yax.axis_label = Y_LABEL
            yax.axis_label_text_font = FONT
            yax.axis_label_text_font_size = "15px"
            yax.axis_label_text_font_style = "normal"
            yax.axis_label_standoff = 4
        if last:
            xax.axis_label = X_LABEL
            xax.axis_label_text_font = FONT
            xax.axis_label_text_font_size = "15px"
            xax.axis_label_text_font_style = "normal"
            xax.axis_label_standoff = 5

        traces = PANELS[(comp, sta)]
        for i, (t, a) in enumerate(traces):
            if sta == "LON":
                lw = 1.4
            elif comp in ("Z", "R") and i == 0:
                lw = 2.2
            else:
                lw = 1.0
            p.bezier(x0="x0", y0="y0", x1="x1", y1="y1", cx0="cx0", cy0="cy0",
                     cx1="cx1", cy1="cy1", source=bezier_source(t, a),
                     line_color="black", line_width=lw)

        p.add_layout(Label(x=-xh, y=yh, x_units="data", y_units="data", text=comp,
                           text_color=GREEN, text_font=FONT, text_font_size="19px",
                           text_baseline="top", x_offset=6, y_offset=-4))
        p.add_layout(Label(x=-xh, y=yh, x_units="data", y_units="data", text=sta,
                           text_color=BLUE, text_font=FONT, text_font_size="19px",
                           text_baseline="top", x_offset=25, y_offset=-4))
        row_figs.append(p)
    figs.append(row_figs)

grid = gridplot(figs, toolbar_location=None)
open("out.html", "w").write(file_html(grid, INLINE, title="Waveforms"))
